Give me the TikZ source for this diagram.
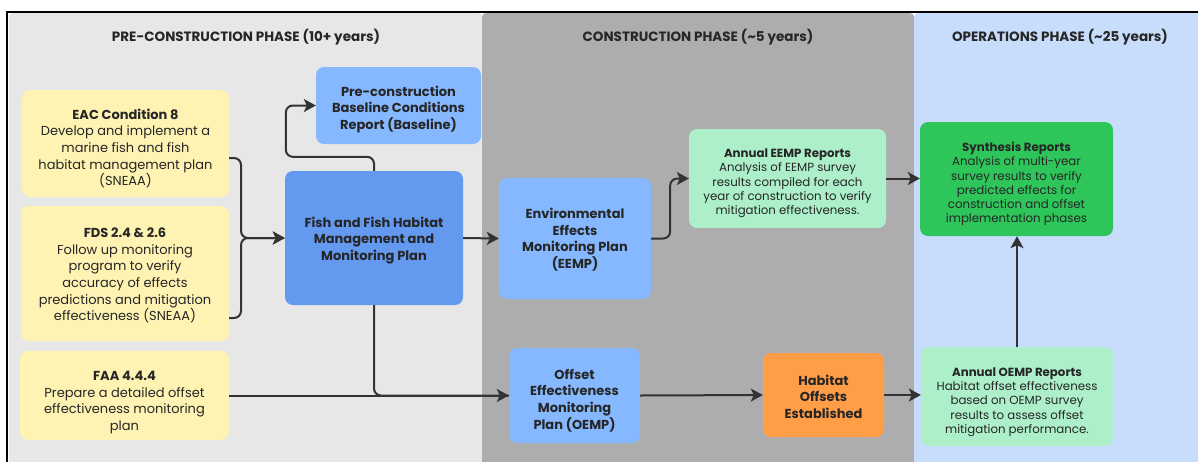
\documentclass[tikz,border=0pt]{standalone}
\usepackage{fontspec}
\setmainfont{Poppins}
\usetikzlibrary{arrows.meta}
\definecolor{prebg}{HTML}{E7E7E7}
\definecolor{conbg}{HTML}{ADADAD}
\definecolor{opsbg}{HTML}{C8DCFC}
\definecolor{reqyel}{HTML}{FEF3B3}
\definecolor{planblue}{HTML}{85B8FF}
\definecolor{mainblue}{HTML}{6399EE}
\definecolor{rptgreen}{HTML}{ACEFC9}
\definecolor{syngreen}{HTML}{2EC65A}
\definecolor{offorange}{HTML}{FF9E47}
\definecolor{wire}{HTML}{333333}
\definecolor{ink}{HTML}{262626}
\tikzset{
  card/.style={rounded corners=8pt, inner sep=0pt},
  txt/.style={align=center, text=ink, inner sep=0pt},
  bigtext/.style={txt, font=\fontsize{13}{16.6}\selectfont},
  bigbold/.style={txt, font=\fontsize{13}{16.6}\selectfont\bfseries},
  smalltext/.style={txt, font=\fontsize{11.8}{14.3}\selectfont},
  phasetitle/.style={font=\fontsize{13.5}{15}\selectfont\bfseries, text=ink},
  flow/.style={draw=wire, line width=2pt, rounded corners=7pt,
    -{Stealth[length=12pt,width=13pt,inset=3pt]}},
  plain/.style={draw=wire, line width=2pt, rounded corners=7pt}
}
\begin{document}
\begin{tikzpicture}[x=1pt,y=-1pt]
\useasboundingbox (0,0) rectangle (1198,461);
\clip (0,0) rectangle (1198,461);
\fill[white] (0,0) rectangle (1198,461);
% phase panels
\fill[prebg, rounded corners=4pt] (9,13) rectangle (482,475);
\fill[conbg, rounded corners=4pt] (482,13) rectangle (914,475);
\fill[opsbg, rounded corners=4pt] (914,13) rectangle (1215,475);
\draw[black, line width=2pt] (7,475) -- (7,12) -- (1215,12);
\node[phasetitle] (tpre) at (246,37) {PRE-CONSTRUCTION PHASE (10+ years)};
\node[phasetitle] (tcon) at (698,37) {CONSTRUCTION PHASE (\textasciitilde 5 years)};
\node[phasetitle] (tops) at (1060,37) {OPERATIONS PHASE (\textasciitilde 25 years)};
% requirement cards
\node[card, fill=reqyel, minimum width=207pt, minimum height=107pt,
  label={[bigtext, yshift=-5pt]center:{\textbf{EAC Condition 8}\\Develop and implement a\\marine fish and fish\\habitat management plan\\(SNEAA)}}] (eac) at (125.5,143.5) {};
\node[card, fill=reqyel, minimum width=208pt, minimum height=135pt,
  label={[bigtext, yshift=-2pt]center:{\textbf{FDS 2.4 \& 2.6}\\Follow up monitoring\\program to verify\\accuracy of effects\\predictions and mitigation\\effectiveness (SNEAA)}}] (fds) at (125,273.5) {};
\node[card, fill=reqyel, minimum width=209pt, minimum height=89pt,
  label={[bigtext, yshift=-7pt]center:{\textbf{FAA 4.4.4}\\Prepare a detailed offset\\effectiveness monitoring\\plan}}] (faa) at (124.5,395.5) {};
% plans
\node[card, fill=planblue, minimum width=165pt, minimum height=77pt,
  label={[bigbold, yshift=-4pt]center:{Pre-construction\\Baseline Conditions\\Report (Baseline)}}] (base) at (398.5,105.5) {};
\node[card, fill=mainblue, minimum width=178pt, minimum height=134pt,
  label={[bigbold, yshift=-2.5pt]center:{Fish and Fish Habitat\\Management and\\Monitoring Plan}}] (ffh) at (374,238) {};
\node[card, fill=planblue, minimum width=152pt, minimum height=121pt,
  label={[bigbold, yshift=-1pt]center:{Environmental\\Effects\\Monitoring Plan\\(EEMP)}}] (eemp) at (575,238.5) {};
\node[card, fill=planblue, minimum width=131pt, minimum height=95pt,
  label={[bigbold, yshift=-5pt]center:{Offset\\Effectiveness\\Monitoring\\Plan (OEMP)}}] (oemp) at (574.5,395.5) {};
\node[card, fill=offorange, minimum width=121pt, minimum height=84pt,
  label={[bigbold, yshift=-1.5pt]center:{Habitat\\Offsets\\Established}}] (hab) at (823.5,395) {};
% reports
\node[card, fill=rptgreen, minimum width=197pt, minimum height=99pt,
  label={[smalltext, yshift=-5pt]center:{\textbf{Annual EEMP Reports}\\Analysis of EEMP survey\\results compiled for each\\year of construction to verify\\mitigation effectiveness.}}] (aeemp) at (787.5,178.5) {};
\node[card, fill=syngreen, minimum width=193pt, minimum height=114pt,
  label={[smalltext, yshift=-5pt]center:{\textbf{Synthesis Reports}\\Analysis of multi-year\\survey results to verify\\predicted effects for\\construction and offset\\implementation phases}}] (syn) at (1016.5,179) {};
\node[card, fill=rptgreen, minimum width=192pt, minimum height=99pt,
  label={[smalltext, yshift=-5.5pt]center:{\textbf{Annual OEMP Reports}\\Habitat offset effectiveness\\based on OEMP survey\\results to assess offset\\mitigation performance.}}] (aoemp) at (1017,396.5) {};
% connectors
\coordinate (bus) at (241,238);
\draw[flow] ([yshift=-14.5pt]eac.east) -| (bus) -- (ffh.west);
\draw[flow] ([yshift=-44.5pt]fds.east) -| (bus) -- (ffh.west);
\draw[flow] (ffh.north) -- ++(0,-14) -| ([xshift=-30pt]base.west) -- (base.west);
\draw[flow] (ffh.east) -- (eemp.west);
\draw[plain] (ffh.south) |- (oemp.west);
\draw[flow] (faa.east) -- (oemp.west);
\draw[flow] (eemp.east) -- ++(19,0) |- (aeemp.west);
\draw[flow] (aeemp.east) -- (syn.west |- aeemp.east);
\draw[flow] (oemp.east) -- (hab.west);
\draw[flow] (hab.east) -- (aoemp.west |- hab.east);
\draw[flow] (aoemp.north) -- (syn.south -| aoemp.north);
\end{tikzpicture}
\end{document}
